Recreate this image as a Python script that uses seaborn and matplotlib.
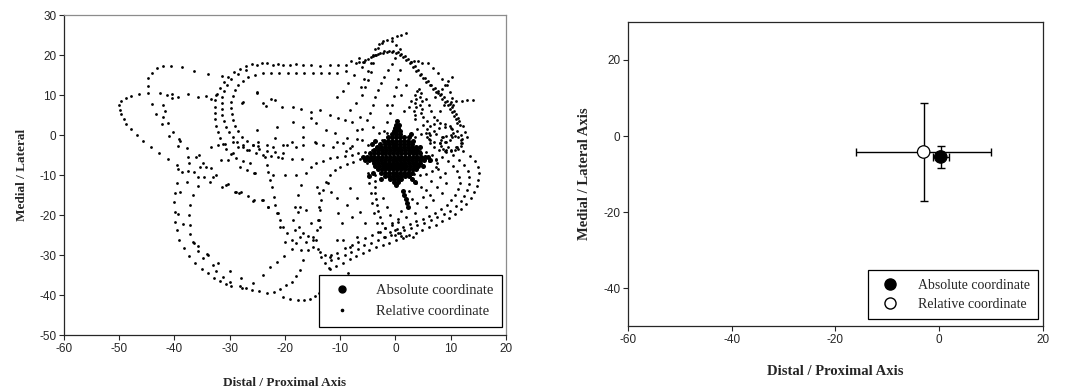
import pandas as pd
import matplotlib
matplotlib.use("Agg")
import matplotlib.pyplot as plt
import seaborn as sns
from matplotlib.lines import Line2D

# ---- left panel: relative coordinate trace ----
far_left_loop = [
    (-34.0, 15.2), (-36.5, 16.1), (-38.7, 16.9), (-40.6, 17.25), (-42.1, 17.25), (-43.2, 16.7),
    (-44.1, 15.6), (-44.7, 14.2), (-44.8, 12.3), (-44.7, 10.4), (-46.4, 10.25), (-47.8, 9.75),
    (-48.8, 9.2), (-49.6, 8.5), (-50.0, 7.5), (-49.9, 6.3), (-49.6, 5.2), (-49.2, 4.1), (-48.7, 2.8),
    (-47.8, 1.4), (-46.7, 0.0), (-45.6, -1.5), (-44.3, -3.0), (-42.8, -4.6), (-41.1, -6.0),
    (-39.5, -7.5), (-42.6, 10.6), (-40.5, 10.2), (-39.3, 9.6), (-37.5, 10.2), (-35.7, 9.6),
    (-34.2, 9.75), (-32.4, 10.0), (-31.4, 14.8), (-27.5, 8.3), (-25.1, 10.6),
]
inner_left = [
    (-44.1, 7.8), (-43.3, 5.3), (-42.3, 2.8), (-40.9, -0.2), (-39.1, -1.1), (-42.0, 7.5),
    (-41.7, 6.1), (-42.0, 4.4), (-41.1, 2.9), (-40.2, 0.8), (-39.0, -1.6), (-41.4, 10.0), (-40.5, 9.2),
    (-33.3, 8.9), (-39.3, -2.75), (-37.7, -3.3), (-37.5, -5.4), (-36.1, -5.6), (-35.5, -5.0),
    (-37.4, -7.1), (-39.4, -8.5), (-38.7, -9.3), (-37.6, -8.9), (-36.5, -9.2), (-35.7, -10.4),
    (-34.7, -10.4), (-34.2, -7.9), (-35.4, -7.9), (-34.8, -6.9), (-33.3, -8.3), (-33.1, -10.4),
    (-32.4, -10.0), (-33.6, -11.7), (-37.8, -11.7), (-39.6, -11.9), (-38.9, -14.2), (-36.6, -15.0),
    (-35.8, -12.75), (-31.3, -12.9), (-30.7, -12.5), (-30.3, -12.25), (-29.1, -14.2), (-28.3, -14.6),
    (-28.0, -14.3), (-26.6, -15.25), (-25.7, -16.4), (-33.3, -2.9), (-32.1, -2.5), (-30.9, -2.2),
    (-29.4, -1.8), (-28.4, -2.9), (-27.5, -2.4), (-26.9, -3.8), (-25.7, -2.6), (-24.8, -2.8),
    (-30.3, -6.25), (-29.4, -4.6), (-28.1, -7.9), (-26.9, -8.75), (-25.6, -9.4), (-31.5, -6.25),
    (-38.5, -22.3), (-39.4, -19.75),
]
lower_left_loops = [
    (-39.9, -14.6), (-40.0, -16.7), (-39.9, -19.2), (-39.8, -21.7), (-39.6, -23.75), (-39.1, -26.25),
    (-38.3, -28.3), (-37.4, -30.25), (-36.3, -31.9), (-35.0, -33.5), (-34.0, -34.6), (-32.9, -35.7),
    (-31.8, -36.5), (-30.7, -37.25), (-29.7, -37.75), (-28.1, -37.75), (-27.0, -38.3), (-26.0, -38.75),
    (-24.6, -39.1), (-23.3, -39.4), (-22.0, -39.2), (-20.9, -38.4), (-19.8, -37.6), (-18.8, -36.7),
    (-17.9, -35.3), (-17.3, -33.75), (-16.7, -31.25), (-15.8, -28.75), (-14.9, -25.4), (-14.0, -21.25),
    (-13.8, -17.9), (-13.8, -14.6), (-14.2, -13.0), (-37.2, -17.5), (-37.3, -20.0), (-37.2, -22.5),
    (-37.1, -24.8), (-36.6, -26.8), (-35.8, -27.75), (-35.7, -28.9), (-34.8, -30.8), (-34.1, -29.8),
    (-33.0, -32.6), (-32.4, -33.9), (-31.2, -35.4), (-30.0, -36.7), (-28.0, -35.8), (-27.8, -38.3),
    (-25.7, -37.1), (-23.9, -35.0), (-22.7, -33.1), (-21.5, -31.7), (-20.2, -30.25), (-18.7, -28.6),
    (-36.4, -26.9), (-34.0, -30.0), (-32.1, -31.9), (-30.0, -33.9), (-20.3, -40.4), (-19.0, -41.0),
    (-17.6, -41.25), (-16.5, -41.2), (-15.5, -40.9), (-14.6, -40.2), (-13.8, -39.4), (-13.1, -38.5),
    (-12.3, -37.6), (-11.5, -36.7), (-10.6, -35.9), (-9.6, -35.2), (-8.6, -34.5),
]
band_top = [
    (-5.6, 18.3), (-7.1, 18.0), (-8.9, 17.6), (-10.4, 17.4), (-11.9, 17.6), (-13.7, 17.3), (-15.2, 17.6),
    (-16.7, 17.4), (-17.9, 17.8), (-19.1, 17.6), (-20.3, 17.5), (-21.2, 17.8), (-22.1, 17.6),
    (-23.3, 17.9), (-24.2, 18.0), (-25.1, 17.6), (-26.0, 17.8), (-27.0, 17.2), (-28.2, 16.5),
    (-29.3, 15.7), (-30.3, 14.6), (-31.1, 13.3), (-31.8, 11.8), (-32.3, 10.3), (-32.6, 8.7),
    (-32.7, 7.1), (-32.7, 5.5), (-32.6, 3.9), (-32.4, 2.3), (-32.1, 0.7), (-31.7, -0.8), (-31.2, -2.3),
    (-30.6, -3.6), (-29.8, -4.8), (-28.8, -5.7), (-27.6, -6.4), (-26.4, -7.0),
]
band_mid = [
    (-9.0, 16.0), (-10.5, 15.6), (-12.0, 15.5), (-13.5, 15.6), (-15.0, 15.5), (-16.5, 15.4),
    (-18.0, 15.5), (-19.5, 15.6), (-21.0, 15.5), (-22.5, 15.4), (-24.0, 15.4), (-25.4, 15.1),
    (-26.6, 14.5), (-27.6, 13.6), (-28.4, 12.5), (-29.0, 11.2), (-29.4, 9.8), (-29.7, 8.3),
    (-29.7, 6.8), (-29.6, 5.3), (-29.4, 3.8), (-29.0, 2.3), (-28.5, 0.9), (-27.8, -0.4), (-26.9, -1.6),
    (-25.8, -2.6), (-24.6, -3.4), (-23.2, -4.0), (-21.8, -4.3), (-20.3, -4.4),
]
band_inner = [
    (-27.0, 16.2), (-28.5, 15.2), (-29.7, 14.0), (-30.5, 12.6), (-31.0, 11.1), (-31.3, 9.6),
    (-31.4, 8.1), (-31.4, 6.6), (-31.3, 5.1), (-31.0, 3.6), (-30.6, 2.1), (-30.1, 0.7), (-29.4, -0.6),
    (-28.6, -1.8), (-27.6, -2.9), (-26.5, -3.8), (-25.3, -4.5), (-24.0, -5.0), (-22.6, -5.3),
    (-21.2, -5.5),
]
mid_scatter = [
    (-25.1, 10.8), (-24.0, 7.9), (-21.8, 8.75), (-20.6, 7.1), (-18.5, 7.1), (-17.0, 6.5), (-15.2, 5.8),
    (-13.7, 6.25), (-11.9, 5.0), (-10.3, 4.2), (-9.1, 3.75), (-7.9, 3.3), (-6.4, 4.6), (-18.5, 3.3),
    (-16.7, 2.1), (-15.2, 4.2), (-14.3, 2.9), (-12.5, 1.25), (-10.9, 0.4), (-8.8, -0.8), (-7.0, 1.25),
    (-6.1, -1.25), (-25.1, 1.25), (-21.5, 2.1), (-21.8, -0.8), (-19.7, -2.5), (-17.9, -2.9),
    (-16.7, -0.4), (-14.6, -1.7), (-13.1, -2.5), (-11.3, -2.9), (-9.4, -2.1), (-8.2, -3.3),
    (-24.8, -1.7), (-23.3, -2.5), (-22.1, -3.1), (-27.8, 8.0), (-23.5, 7.3), (-22.6, 8.9),
    (-20.3, -2.6), (-18.8, -1.8), (-16.7, -2.6), (-14.3, -1.9), (-10.6, -1.7), (-7.9, -2.7),
    (-23.6, -5.4), (-23.3, -7.5), (-23.0, -9.2), (-22.7, -11.25), (-22.4, -12.9), (-22.0, -15.4),
    (-21.8, -17.5), (-21.4, -19.6), (-20.9, -21.25), (-20.3, -22.9), (-19.7, -24.6), (-18.8, -26.25),
    (-17.9, -27.1), (-17.0, -28.75), (-20.6, -5.8), (-18.8, -6.1), (-16.9, -6.1), (-20.0, -10.0),
    (-17.9, -10.0), (-22.1, -10.0), (-25.4, -9.6), (-25.6, -16.25), (-23.9, -16.25), (-23.0, -17.9),
    (-21.2, -19.6), (-17.3, -17.9), (-16.1, -18.75), (-15.2, -22.1), (-13.7, -22.9),
    (-12.2, -12.1), (-11.6, -14.2), (-10.6, -15.8), (-10.3, -19.6), (-9.7, -22.1), (-8.8, -17.5),
    (-8.2, -13.3), (-7.0, -15.8), (-7.9, -20.4), (-6.4, -19.2), (-5.5, -22.1), (-9.4, -26.25),
    (-8.2, -27.9), (-7.0, -25.4), (-10.6, -26.25), (-11.6, -30.0), (-28.9, -14.2), (-24.1, -16.25),
    (-23.1, -18.1), (-20.9, -22.9), (-20.0, -26.7),
]
loop_d = [
    (-18.5, -21.25), (-18.2, -17.9), (-17.6, -15.0), (-17.0, -12.5), (-16.1, -9.6), (-15.2, -7.9),
    (-14.3, -7.0), (-13.1, -6.4), (-11.9, -5.8), (-10.5, -5.4), (-9.1, -5.25), (-7.9, -5.0),
    (-6.7, -4.6), (-5.5, -4.2), (-4.3, -3.75), (-3.1, -3.3), (-18.2, -23.75), (-17.3, -25.4),
    (-16.1, -26.7), (-14.9, -27.9), (-13.7, -29.2), (-12.8, -30.0), (-17.6, -19.2), (-17.4, -22.9),
    (-16.7, -24.5), (-15.8, -25.25), (-14.9, -26.25),
]
loop_e = [
    (-14.3, -26.25), (-14.1, -23.75), (-13.8, -21.25), (-13.6, -18.75), (-13.4, -16.25),
    (-13.1, -13.75), (-12.6, -11.7), (-11.9, -10.0), (-11.0, -8.75), (-10.1, -7.9), (-8.8, -7.25),
    (-7.6, -6.7), (-6.4, -6.1), (-5.2, -5.6), (-14.0, -28.5), (-13.5, -30.5), (-12.8, -32.0),
    (-12.0, -33.2),
]
right_loops = [
    (11.0, -3.0), (12.3, -4.0), (13.5, -5.2), (14.4, -6.6), (14.9, -8.1), (15.1, -9.6), (15.0, -11.2),
    (14.7, -12.8), (14.2, -14.3), (13.6, -15.8), (12.8, -17.2), (11.9, -18.5), (10.8, -19.7),
    (9.7, -20.7), (8.5, -21.6), (7.3, -22.4), (6.1, -23.1), (4.9, -23.8), (3.7, -24.5), (2.5, -25.1),
    (1.3, -25.7), (0.1, -26.3), (-1.1, -26.9), (-2.3, -27.5), (-3.5, -28.1), (-4.7, -28.8),
    (-5.9, -29.5), (-7.1, -30.3), (-8.3, -31.1), (-9.5, -31.9), (-10.7, -32.7), (-11.9, -33.5),
    (10.5, -5.0), (11.6, -6.2), (12.5, -7.5), (13.1, -9.0), (13.4, -10.6), (13.4, -12.2), (13.0, -13.8),
    (12.5, -15.2), (11.8, -16.6), (10.9, -17.8), (9.9, -18.9), (8.8, -19.8), (7.6, -20.6), (6.4, -21.3),
    (5.2, -22.0), (4.0, -22.6), (2.8, -23.2), (1.6, -23.8), (0.4, -24.4), (-0.8, -25.0), (-2.0, -25.6),
    (-3.2, -26.2), (-4.4, -26.9), (-5.6, -27.6), (-6.8, -28.4), (-8.0, -29.2), (-9.2, -30.0),
    (-10.4, -30.7), (-11.6, -31.3), (9.5, -6.5), (10.5, -7.7), (11.2, -9.0), (11.6, -10.5),
    (11.7, -12.1), (11.4, -13.6), (10.8, -15.0), (10.1, -16.3), (9.3, -17.5), (8.3, -18.6),
    (7.2, -19.5), (6.1, -20.3), (5.0, -21.0), (3.8, -21.6), (2.6, -22.3), (1.4, -22.9), (0.3, -23.5),
]
inner_right = [
    (3.8, -12.1), (4.7, -12.9), (5.6, -13.8), (6.2, -15.0), (6.8, -16.3), (5.0, -15.5), (4.0, -17.0),
    (3.0, -16.0), (2.5, -14.0), (6.5, -11.5), (7.5, -13.0), (8.5, -14.5), (9.2, -12.0), (8.0, -10.5),
    (5.5, -18.0), (3.5, -19.5), (2.0, -20.5), (1.0, -19.0), (0.5, -21.0), (7.8, -8.5), (9.0, -9.5),
    (-5.2, -7.1), (-5.0, -9.6), (-4.8, -12.1), (-4.5, -14.6), (-4.2, -17.1), (-3.8, -19.6),
    (-3.4, -22.1), (-2.8, -24.2), (-1.9, -25.6), (-3.6, -10.0), (-3.7, -11.5), (-3.7, -13.0),
    (-3.6, -14.5), (-3.5, -16.0), (-3.3, -17.5), (-3.1, -19.0), (-2.8, -20.5), (-2.4, -22.0),
    (-1.8, -23.3), (-1.0, -24.3), (0.0, -25.0), (1.0, -25.3), (2.0, -25.2), (-2.2, -15.8),
    (-1.6, -17.9), (-1.0, -20.0), (-0.7, -22.1), (-0.1, -23.75), (0.8, -24.6), (3.2, -25.4),
    (-11.9, -30.4), (-10.5, -29.4), (-9.1, -28.3), (-7.9, -27.5), (-6.7, -26.7), (-5.5, -25.8),
    (-4.3, -25.0), (-3.1, -24.2), (-1.9, -23.3), (-0.7, -22.5), (0.5, -21.7),
]
upper_right_arcs = [
    (-8.2, 6.25), (-7.2, 8.1), (-6.1, 10.0), (-5.5, 11.9), (-4.9, 13.75), (-4.4, 15.8), (-4.0, 17.9),
    (-3.5, 19.9), (-3.1, 21.7), (-2.4, 23.0), (-1.6, 23.75), (-0.7, 23.5), (0.2, 22.5), (0.9, 21.4),
    (-5.2, 3.75), (-4.6, 5.6), (-4.0, 7.5), (-3.6, 9.4), (-3.1, 11.25), (-2.6, 12.9), (-2.0, 14.6),
    (-1.3, 16.25), (-0.7, 17.8), (-0.1, 19.3), (-2.5, -1.25), (-2.0, 1.0), (-1.5, 3.2), (-1.0, 5.4),
    (-0.6, 7.6), (-0.2, 9.8), (0.2, 12.0), (0.5, 14.1), (0.8, 16.25), (-6.2, 12.0), (-5.6, 14.0),
    (-5.0, 16.0), (-4.5, 18.0), (-4.0, 20.0), (-3.6, 21.5), (-3.0, 22.8), (-2.3, 23.6), (-0.6, 24.3),
    (0.3, 24.7), (1.1, 25.0), (2.0, 25.4),
]
black_arc = [
    (-6.5, 18.2), (-5.5, 18.8), (-4.5, 19.5), (-3.6, 20.1), (-2.8, 20.6), (-2.0, 20.9), (-1.2, 21.1),
    (-0.4, 21.1), (0.4, 20.8), (1.1, 20.3), (1.7, 19.7), (2.3, 19.0), (2.9, 18.2), (3.5, 17.3),
    (4.1, 16.3), (4.7, 15.3), (5.3, 14.3), (5.9, 13.4), (6.5, 12.6), (7.1, 11.7), (7.7, 10.9),
    (8.3, 10.2), (8.8, 9.4), (9.3, 8.6), (9.8, 7.8), (10.2, 7.0), (10.6, 6.1), (11.0, 5.2), (11.3, 4.3),
    (11.6, 3.4), (11.7, 2.5), (-5.8, 18.3), (-4.9, 19.0), (-4.0, 19.7), (-3.1, 20.3), (-2.3, 20.6),
    (-1.5, 20.8), (-0.7, 20.8), (0.1, 20.6), (0.8, 20.1), (1.4, 19.5), (2.0, 18.8), (2.6, 18.0),
    (3.2, 17.1), (3.8, 16.1), (4.4, 15.1), (5.0, 14.2), (5.6, 13.3), (6.2, 12.4), (6.8, 11.5),
    (7.4, 10.7), (8.0, 9.9), (8.5, 9.1), (9.0, 8.3), (9.5, 7.5), (9.9, 6.6), (10.3, 5.7), (10.7, 4.8),
    (11.0, 3.9), (11.2, 3.0), (2.8, 18.3), (3.4, 18.6), (4.1, 18.4), (4.9, 18.0), (5.9, 17.9),
    (6.8, 16.8), (7.7, 15.4), (8.5, 14.0), (9.3, 12.5), (9.9, 10.8), (10.3, 9.2), (10.5, 7.5),
]
spurs = [
    (10.2, 14.6), (9.6, 13.6), (9.0, 12.6), (8.4, 11.6), (7.8, 10.6), (7.2, 9.6), (10.0, 8.2),
    (11.0, 8.4), (12.0, 8.6), (13.0, 8.7), (14.0, 8.8), (-8.0, 18.5), (-6.5, 19.2), (-6.0, 17.0),
    (-7.5, 15.0), (-8.5, 13.0), (-9.5, 11.0), (-10.5, 9.5), (-4.0, 2.0), (-6.0, 1.5), (-3.0, 0.5),
    (-7.0, -1.0), (-5.0, -2.5), (-9.0, -4.0), (-1.5, 7.5), (1.5, 6.0), (1.0, 10.0), (2.0, 12.5),
    (-1.5, 0.5),
]
upper_cluster = [
    (3.5, 4.0), (3.6, 5.0), (3.4, 6.0), (3.7, 7.0), (3.5, 8.0), (3.8, 9.0), (3.6, 10.0), (3.9, 11.0),
    (4.3, 11.5), (4.6, 10.5), (4.4, 9.5), (4.8, 8.5), (4.5, 7.5), (4.9, 6.5), (4.6, 5.5), (5.0, 4.5),
    (2.8, 8.5), (2.5, 7.0), (5.5, 9.0), (6.0, 7.5), (6.5, 6.0), (5.8, 3.5), (7.0, 4.5), (8.0, 6.0),
    (8.8, 7.5),
]
ring_loops = [
    (12.0, -1.0), (11.8, 0.1), (11.1, 1.1), (10.1, 1.8), (9.0, 2.0), (7.9, 1.8), (6.9, 1.1), (6.2, 0.1),
    (6.0, -1.0), (6.2, -2.1), (6.9, -3.1), (7.9, -3.8), (9.0, -4.0), (10.1, -3.8), (11.1, -3.1),
    (11.8, -2.1), (9.5, -3.0), (9.2, -1.7), (8.5, -0.5), (7.3, 0.2), (6.0, 0.5), (4.7, 0.2), (3.5, -0.5),
    (2.8, -1.7), (2.5, -3.0), (2.8, -4.3), (3.5, -5.5), (4.7, -6.2), (6.0, -6.5), (7.3, -6.2),
    (8.5, -5.5), (9.2, -4.3), (12.0, -2.0), (11.8, -1.2), (11.4, -0.6), (10.8, -0.2), (10.0, 0.0),
    (9.2, -0.2), (8.6, -0.6), (8.2, -1.2), (8.0, -2.0), (8.2, -2.8), (8.6, -3.4), (9.2, -3.8),
    (10.0, -4.0), (10.8, -3.8), (11.4, -3.4), (11.8, -2.8), (10.5, 0.5), (10.3, 1.5), (9.8, 2.3),
    (9.0, 2.8), (8.0, 3.0), (7.0, 2.8), (6.2, 2.3), (5.7, 1.5), (5.5, 0.5), (5.7, -0.5), (6.2, -1.3),
    (7.0, -1.8), (8.0, -2.0), (9.0, -1.8), (9.8, -1.3), (10.3, -0.5), (7.5, -7.0), (7.3, -5.9),
    (6.6, -4.9), (5.6, -4.2), (4.5, -4.0), (3.4, -4.2), (2.4, -4.9), (1.7, -5.9), (1.5, -7.0),
    (1.7, -8.1), (2.4, -9.1), (3.4, -9.8), (4.5, -10.0), (5.6, -9.8), (6.6, -9.1), (7.3, -8.1),
    (12.6, 0.8), (12.9, -0.4), (12.3, 2.3), (7.5, 3.8), (5.0, 2.5), (4.0, 1.5),
]

# ---- left panel: absolute coordinate cluster, rows of x values keyed by y ----
abs_rows = {
    3.4: [0.3], 2.6: [0.1, 0.6], 1.8: [-0.1, 0.4], 1.0: [0.2, -0.3, 0.9], 0.2: [-0.6, 0.1, 0.8, 2.9],
    -0.6: [-1.3, -0.6, 0.1, 0.8, 1.5, 2.4],
    -1.4: [-2.1, -1.3, -0.6, 0.1, 0.8, 1.5, 2.2, 3.1, -3.6],
    -2.2: [-2.7, -1.9, -1.2, -0.5, 0.2, 0.9, 1.6, 2.3, 3.0, -4.3],
    -3.0: [-3.3, -2.6, -1.9, -1.2, -0.5, 0.2, 0.9, 1.6, 2.3, 3.0, 3.7, 4.5],
    -3.8: [-3.8, -3.1, -2.4, -1.7, -1.0, -0.3, 0.4, 1.1, 1.8, 2.5, 3.2, 3.9],
    -4.6: [-4.6, -3.9, -3.2, -2.5, -1.8, -1.1, -0.4, 0.3, 1.0, 1.7, 2.4, 3.1, 3.8, 4.5],
    -5.4: [-5.8, -5.1, -4.5, -3.8, -3.1, -2.4, -1.7, -1.0, -0.3, 0.4, 1.1, 1.8, 2.5, 3.2, 3.9, 4.6, 5.3, 5.9],
    -6.2: [-5.5, -4.7, -4.0, -3.3, -2.6, -1.9, -1.2, -0.5, 0.2, 0.9, 1.6, 2.3, 3.0, 3.7, 4.4, 5.1, 6.3],
    -7.0: [-3.9, -3.2, -2.5, -1.8, -1.1, -0.4, 0.3, 1.0, 1.7, 2.4, 3.1, 3.8, 4.5],
    -7.8: [-3.6, -2.9, -2.2, -1.5, -0.8, -0.1, 0.6, 1.3, 2.0, 2.7, 3.4, 4.1, 5.0],
    -8.6: [-3.2, -2.5, -1.8, -1.1, -0.4, 0.3, 1.0, 1.7, 2.4, 3.1, 3.8],
    -9.4: [-4.0, -2.6, -1.9, -1.2, -0.5, 0.2, 0.9, 1.6, 2.3, 3.0],
    -10.2: [-4.8, -1.8, -1.1, -0.4, 0.3, 1.0, 1.7, 2.4],
    -11.0: [-1.0, -0.3, 0.4, 1.1, 3.0, -2.6],
    -11.8: [-0.2, 0.5, 3.5],
    -12.6: [0.2],
    -14.0: [1.3], -15.0: [1.6], -16.0: [1.9], -17.0: [2.1], -18.0: [2.3],
}

# ---- right panel: mean +/- SD of both coordinate systems ----
coord_kind = ["Absolute coordinate", "Relative coordinate"]
mean_x = [0.3, -3.0]
mean_y = [-5.5, -4.2]
sd_x = [1.5, 13.0]
sd_y = [3.0, 13.0]

rel_pts = (far_left_loop + inner_left + lower_left_loops + band_top + band_mid + band_inner
           + mid_scatter + loop_d + loop_e + right_loops + inner_right + upper_right_arcs
           + black_arc + spurs + upper_cluster + ring_loops)
rel = pd.DataFrame(rel_pts, columns=["x", "y"])
absd = pd.DataFrame([(x, y) for y, xs in abs_rows.items() for x in xs], columns=["x", "y"])
summ = pd.DataFrame({"kind": coord_kind, "x": mean_x, "y": mean_y, "sx": sd_x, "sy": sd_y})

sns.set_style("ticks")
plt.rcParams["font.family"] = ["Liberation Sans", "DejaVu Sans"]
plt.rcParams["axes.unicode_minus"] = False
serif = ["Liberation Serif", "DejaVu Serif"]

fig = plt.figure(figsize=(10.65, 3.92), dpi=100)
ax1 = fig.add_axes([0.060, 0.1454, 0.415, 0.8163])
ax2 = fig.add_axes([0.5897, 0.168, 0.3896, 0.776])

# left panel
sns.scatterplot(data=rel, x="x", y="y", ax=ax1, color="black", s=4, linewidth=0, zorder=2)
sns.scatterplot(data=absd, x="x", y="y", ax=ax1, color="black", s=13, linewidth=0, zorder=3)
ax1.set_xlim(-60, 20)
ax1.set_ylim(-50, 30)
ax1.set_xticks(range(-60, 21, 10))
ax1.set_yticks(range(-50, 31, 10))
for s in ["top", "right"]:
    ax1.spines[s].set_color("#8c8c8c")
h1 = [Line2D([], [], ls="", marker="o", color="black", markersize=5),
      Line2D([], [], ls="", marker="o", color="black", markersize=1.6)]
leg1 = ax1.legend(h1, coord_kind, loc="lower right", bbox_to_anchor=(0.991, 0.025),
                  borderaxespad=0, fancybox=False, edgecolor="black", framealpha=1,
                  prop={"family": serif, "size": 10.5}, handletextpad=1.3, borderpad=0.6,
                  labelspacing=0.55)
leg1.get_frame().set_linewidth(0.9)

# right panel
ax2.errorbar(summ.x, summ.y, xerr=summ.sx, yerr=summ.sy, fmt="none", ecolor="black",
             elinewidth=1, capsize=3, capthick=1, zorder=1)
sns.scatterplot(data=summ, x="x", y="y", hue="kind", palette=["black", "white"], ax=ax2,
                s=80, edgecolor="black", linewidth=0.9, legend=False, zorder=3)
ax2.set_xlim(-60, 20)
ax2.set_ylim(-50, 30)
ax2.set_xticks(range(-60, 21, 20))
ax2.set_yticks(range(-40, 21, 20))
h2 = [Line2D([], [], ls="", marker="o", mfc="black", mec="black", markersize=8),
      Line2D([], [], ls="", marker="o", mfc="white", mec="black", markersize=8)]
leg2 = ax2.legend(h2, coord_kind, loc="lower right", bbox_to_anchor=(0.988, 0.023),
                  borderaxespad=0, fancybox=False, edgecolor="black", framealpha=1,
                  prop={"family": serif, "size": 10}, handletextpad=1.0, borderpad=0.6,
                  labelspacing=0.45)
leg2.get_frame().set_linewidth(0.9)

for ax, yl, xpad, ypad, fs in [(ax1, "Medial / Lateral", 16, 8, 9.5),
                                (ax2, "Medial / Lateral Axis", 14, 9, 10.5)]:
    ax.set_xlabel("Distal / Proximal Axis", family=serif, weight="bold", fontsize=fs, labelpad=xpad)
    ax.set_ylabel(yl, family=serif, weight="bold", fontsize=fs, labelpad=ypad)
    ax.tick_params(direction="out", length=3.5, width=0.8, labelsize=8.5, pad=2)
    for s in ax.spines.values():
        s.set_linewidth(0.9)

fig.savefig("out.png", dpi=100)
